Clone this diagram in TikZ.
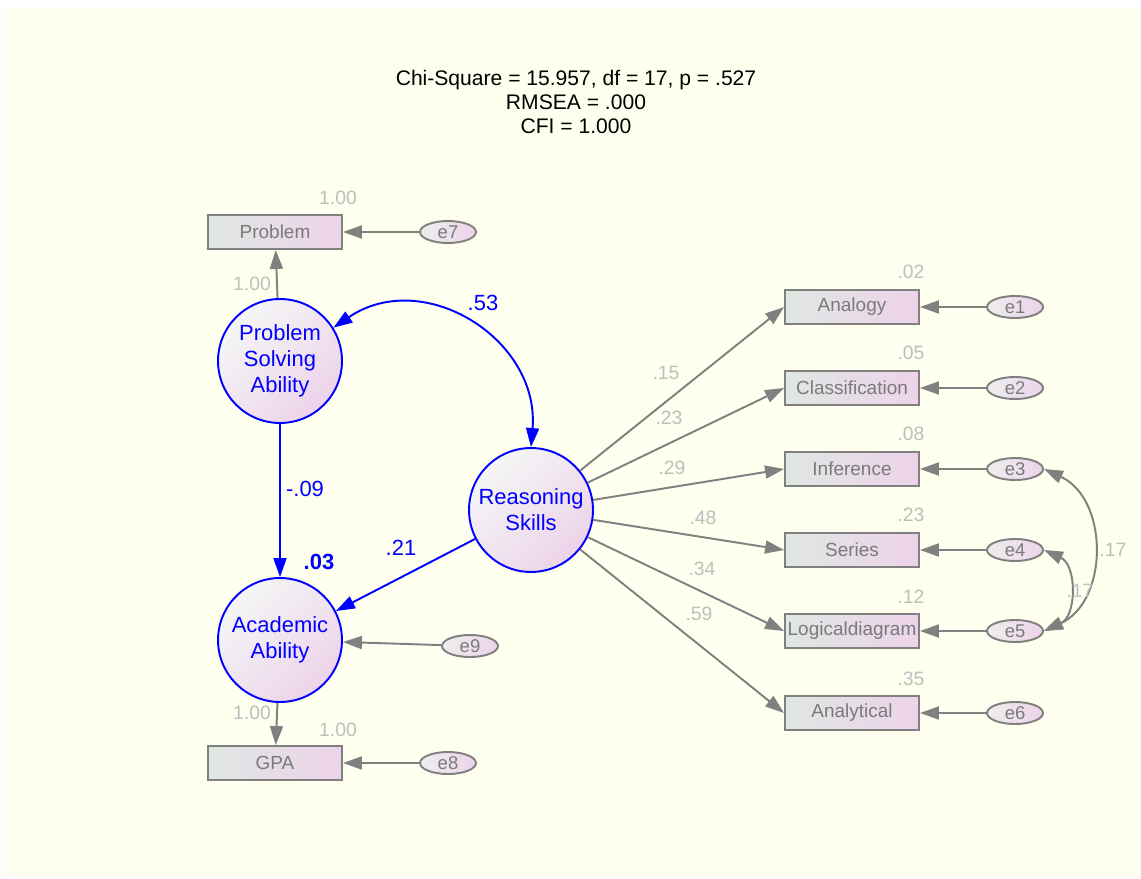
\documentclass[tikz,border=0pt]{standalone}
\usepackage{fontspec}
\setmainfont{Liberation Sans}
\usepackage{tikz}
\usetikzlibrary{shapes.geometric,arrows.meta}

\definecolor{ivorybg}{HTML}{FEFFEF}
\definecolor{boxleft}{HTML}{DFE7E2}
\definecolor{boxright}{HTML}{EDD3EA}
\definecolor{linegray}{HTML}{808080}
\definecolor{textgray}{HTML}{7A7A7A}
\definecolor{labgray}{HTML}{BEBEBE}
\definecolor{amosblue}{HTML}{0000FF}

\begin{document}
\begin{tikzpicture}[x=0.02cm,y=-0.02cm,
    obsbox/.style={draw=linegray, line width=1.1pt, left color=boxleft, right color=boxright,
        minimum width=2.68cm, minimum height=0.68cm, inner sep=0pt, text=textgray,
        font=\fontsize{10.8}{12}\selectfont},
    latent/.style={circle, draw=amosblue, line width=1.1pt, left color=boxleft!80!gray!20, right color=boxright,
        shading angle=45, minimum size=2.48cm, inner sep=0pt, align=center, text=amosblue,
        font=\fontsize{12.5}{14.7}\selectfont},
    errvar/.style={ellipse, draw=linegray, line width=1.1pt, left color=boxleft!70!gray!30, right color=boxright,
        minimum width=1.12cm, minimum height=0.44cm, inner sep=0pt, text=textgray,
        font=\fontsize{10.5}{12}\selectfont},
    grayarrow/.style={draw=linegray, line width=1.1pt, -{Triangle[length=0.38cm, width=0.26cm]}},
    bluearrow/.style={draw=amosblue, line width=1.1pt, -{Triangle[length=0.38cm, width=0.26cm]}},
    bluecov/.style={draw=amosblue, line width=1.1pt, {Triangle[length=0.38cm, width=0.26cm]}-{Triangle[length=0.38cm, width=0.26cm]}},
    covarrow/.style={draw=linegray, line width=1.1pt, {Triangle[length=0.38cm, width=0.26cm]}-{Triangle[length=0.38cm, width=0.26cm]}},
    estlab/.style={text=labgray, font=\fontsize{11}{12}\selectfont},
    bluelab/.style={text=amosblue, font=\fontsize{12.5}{14}\selectfont}]
			\useasboundingbox (0,0) rectangle (1141,878);
			\fill[ivorybg] (3,8) rectangle (1141,876);
			% fit statistics
			\node[align=center, font=\fontsize{12}{13.9}\selectfont] (fit) at (576,102)
				{Chi-Square = 15.957, df = 17, p = .527\\RMSEA = .000\\CFI = 1.000};
			% latent variables
			\node[latent] (psa) at (280,361) {Problem\\Solving\\Ability};
			\node[latent] (aa) at (280,640) {Academic\\Ability};
			\node[latent] (rs) at (531,510) {Reasoning\\Skills};
			% left indicators
			\node[obsbox] (problem) at (275,232) {Problem};
			\node[obsbox] (gpa) at (275,763) {GPA};
			\node[errvar] (e7) at (448,232) {e7};
			\node[errvar] (e8) at (448,763) {e8};
			\node[errvar] (e9) at (470,646) {e9};
			% right indicators
			\node[obsbox] (analogy) at (852,307) {Analogy};
			\node[obsbox] (classification) at (852,388) {Classification};
			\node[obsbox] (inference) at (852,469) {Inference};
			\node[obsbox] (series) at (852,550) {Series};
			\node[obsbox] (logical) at (852,631) {Logicaldiagram};
			\node[obsbox] (analytical) at (852,713) {Analytical};
			\node[errvar] (e1) at (1015,307) {e1};
			\node[errvar] (e2) at (1015,388) {e2};
			\node[errvar] (e3) at (1015,469) {e3};
			\node[errvar] (e4) at (1015,550) {e4};
			\node[errvar] (e5) at (1015,631) {e5};
			\node[errvar] (e6) at (1015,713) {e6};
			% paths
			\draw[grayarrow] (psa) -- (problem);
			\draw[grayarrow] (aa) -- (gpa);
			\draw[grayarrow] (e7) -- (problem);
			\draw[grayarrow] (e8) -- (gpa);
			\draw[grayarrow] (e9) -- (aa);
			\draw[bluearrow] (psa) -- (aa);
			\draw[bluearrow] (rs) -- (aa);
			\draw[bluecov] (rs.north) .. controls +(9,-108) and +(90,-61) .. (psa.32);
			\foreach \obs/\err in {analogy/e1, classification/e2, inference/e3, series/e4, logical/e5, analytical/e6}{
				\draw[grayarrow] (rs) -- (\obs.west);
				\draw[grayarrow] (\err) -- (\obs);
			}
			\draw[covarrow] (e3.east) .. controls +(65,30) and +(65,-30) .. (e5.east);
			\draw[covarrow] (e4.east) .. controls +(33,15) and +(33,-15) .. (e5.east);
			% estimates
			\node[estlab] (r2problem) at (338,198) {1.00};
			\node[estlab] (lprob) at (252,284) {1.00};
			\node[estlab] (lgpa) at (252,713) {1.00};
			\node[estlab] (r2gpa) at (338,730) {1.00};
			\node[bluelab] (b53) at (483,303) {.53};
			\node[bluelab] (b09) at (305,489) {-.09};
			\node[bluelab] (b21) at (401,548) {.21};
			\node[bluelab, font=\bfseries\fontsize{12.5}{14}\selectfont] (r2aa) at (319,562) {.03};
			\node[estlab] (l15) at (666,373) {.15};
			\node[estlab] (l23) at (669,418) {.23};
			\node[estlab] (l29) at (672,468) {.29};
			\node[estlab] (l48) at (703,518) {.48};
			\node[estlab] (l34) at (702,569) {.34};
			\node[estlab] (l59) at (699,614) {.59};
			\foreach \val/\ypos in {.02/272, .05/353, .08/434, .23/515, .12/597, .35/679}{
				\node[estlab] at (911,\ypos) {\val};
			}
			\node[estlab] (c35) at (1113,550) {.17};
			\node[estlab] (c45) at (1080,591) {.17};
		\end{tikzpicture}
\end{document}
